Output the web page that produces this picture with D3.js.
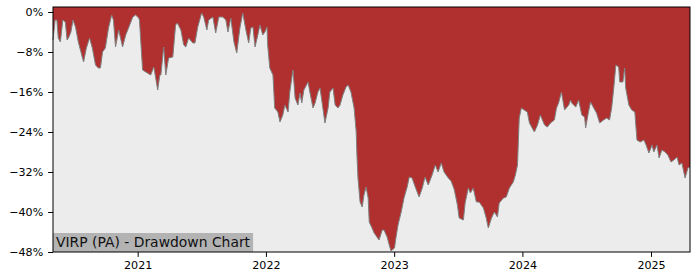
<!DOCTYPE html>
<html>
<head>
<meta charset="utf-8">
<script src="https://cdn.jsdelivr.net/npm/d3@7"></script>
<style>
  body { margin: 0; background: #fff; }
  svg text { font-family: "DejaVu Sans", sans-serif; }
</style>
</head>
<body>
<div id="chart"></div>
<script>
// drawdown series (date, drawdown in %)
var dates = [
  "2020-05-05","2020-05-11","2020-05-16","2020-05-20","2020-05-26","2020-06-02","2020-06-09","2020-06-14",
  "2020-06-18","2020-06-25","2020-07-01","2020-07-08","2020-07-16","2020-07-31","2020-08-08","2020-08-17",
  "2020-08-25","2020-09-03","2020-09-11","2020-09-17","2020-09-23","2020-10-01","2020-10-10","2020-10-19",
  "2020-10-24","2020-10-30","2020-11-08","2020-11-19","2020-11-28","2020-12-06","2020-12-18","2020-12-26",
  "2021-01-04","2021-01-06","2021-01-15","2021-01-24","2021-02-07","2021-02-16","2021-02-27","2021-03-05",
  "2021-03-08","2021-03-16","2021-03-22","2021-03-30","2021-04-11","2021-04-19","2021-04-24","2021-05-04",
  "2021-05-12","2021-05-18","2021-05-26","2021-06-07","2021-06-13","2021-06-21","2021-07-02","2021-07-08",
  "2021-07-17","2021-07-22","2021-08-03","2021-08-11","2021-08-20","2021-08-31","2021-09-09","2021-09-15",
  "2021-09-23","2021-10-02","2021-10-10","2021-10-19","2021-10-27","2021-11-05","2021-11-13","2021-11-19",
  "2021-11-25","2021-12-01","2021-12-09","2021-12-15","2021-12-23","2021-12-29","2022-01-04","2022-01-06",
  "2022-01-12","2022-01-21","2022-01-26","2022-02-04","2022-02-10","2022-02-18","2022-02-24","2022-03-05",
  "2022-03-10","2022-03-19","2022-03-25","2022-04-02","2022-04-08","2022-04-13","2022-04-19","2022-05-01",
  "2022-05-06","2022-05-15","2022-05-21","2022-05-29","2022-06-04","2022-06-12","2022-06-18","2022-06-27",
  "2022-07-02","2022-07-11","2022-07-17","2022-07-25","2022-07-31","2022-08-08","2022-08-17","2022-08-23",
  "2022-08-31","2022-09-09","2022-09-15","2022-09-17","2022-09-20","2022-09-26","2022-10-02","2022-10-07",
  "2022-10-13","2022-10-19","2022-10-22","2022-10-30","2022-11-05","2022-11-13","2022-11-19","2022-11-28",
  "2022-12-03","2022-12-12","2022-12-18","2022-12-23","2023-01-02","2023-01-06","2023-01-12","2023-01-21",
  "2023-01-29","2023-02-07","2023-02-13","2023-02-21","2023-03-02","2023-03-13","2023-03-22","2023-03-30",
  "2023-04-08","2023-04-19","2023-04-28","2023-05-06","2023-05-15","2023-05-23","2023-06-04","2023-06-12",
  "2023-06-21","2023-06-30","2023-07-05","2023-07-17","2023-07-22","2023-07-31","2023-08-06","2023-08-14",
  "2023-08-23","2023-08-31","2023-09-12","2023-09-20","2023-09-26","2023-10-05","2023-10-13","2023-10-22",
  "2023-10-27","2023-11-08","2023-11-16","2023-11-25","2023-12-06","2023-12-12","2023-12-18","2023-12-23",
  "2023-12-29","2024-01-06","2024-01-15","2024-01-21","2024-02-04","2024-02-13","2024-02-21","2024-03-04",
  "2024-03-12","2024-03-21","2024-04-01","2024-04-07","2024-04-13","2024-04-21","2024-04-30","2024-05-12",
  "2024-05-17","2024-05-20","2024-06-01","2024-06-09","2024-06-18","2024-06-26","2024-06-29","2024-07-07",
  "2024-07-13","2024-07-22","2024-07-30","2024-08-08","2024-08-19","2024-08-28","2024-09-05","2024-09-11",
  "2024-09-17","2024-09-23","2024-10-01","2024-10-04","2024-10-13","2024-10-18","2024-10-21","2024-10-30",
  "2024-11-07","2024-11-16","2024-11-22","2024-12-01","2024-12-12","2024-12-18","2024-12-26","2025-01-04",
  "2025-01-09","2025-01-18","2025-01-24","2025-02-01","2025-02-10","2025-02-18","2025-02-27","2025-03-07",
  "2025-03-16","2025-03-22","2025-03-30","2025-04-08","2025-04-16","2025-04-22"
];
var drawdown = [
  -5.6,-1.6,-1.6,-5.2,-6.0,-1.6,-2.0,-5.6,
  -5.2,-4.0,-1.6,-3.0,-6.0,-10.0,-7.2,-5.2,
  -7.2,-10.6,-11.2,-11.2,-8.0,-7.2,-3.2,-0.6,
  -1.6,-7.0,-3.6,-7.0,-4.6,-3.2,-1.0,-0.6,
  -1.2,-1.6,-11.6,-12.0,-12.6,-11.0,-15.6,-12.6,
  -12.6,-7.0,-12.6,-9.2,-9.0,-2.6,-2.2,-3.6,
  -6.6,-7.0,-5.2,-6.2,-6.2,-3.0,-0.2,-1.0,
  -3.6,-1.6,-1.0,-4.2,-1.0,-1.0,-1.6,-4.0,
  -1.2,-6.0,-8.2,-3.2,-0.2,-3.6,-6.2,-3.2,
  -3.0,-7.0,-4.6,-2.6,-4.6,-4.0,-3.0,-6.6,
  -11.2,-12.6,-19.2,-20.0,-22.0,-20.6,-18.6,-20.0,
  -16.0,-11.6,-17.2,-18.6,-16.2,-18.2,-15.6,-14.0,
  -16.0,-19.2,-18.2,-16.0,-15.2,-19.2,-22.2,-19.2,
  -16.0,-15.2,-18.6,-19.2,-18.6,-16.6,-15.0,-14.6,
  -16.0,-19.2,-24.0,-28.6,-33.2,-38.0,-39.0,-36.6,
  -35.0,-37.2,-42.0,-43.2,-44.2,-45.0,-45.6,-43.6,
  -43.6,-45.0,-46.6,-47.8,-47.2,-45.2,-42.6,-40.0,
  -37.2,-35.0,-33.0,-33.2,-35.0,-37.0,-35.2,-33.0,
  -34.6,-32.6,-30.6,-32.0,-30.2,-32.0,-33.2,-33.8,
  -35.5,-38.6,-41.2,-41.6,-38.2,-35.2,-36.2,-35.2,
  -38.0,-38.0,-39.2,-41.2,-43.2,-41.2,-40.0,-41.0,
  -38.2,-37.2,-37.0,-35.2,-34.0,-32.6,-30.6,-21.2,
  -19.2,-19.6,-20.0,-22.2,-24.0,-22.6,-20.6,-22.6,
  -23.0,-22.2,-21.6,-19.2,-18.2,-16.0,-19.6,-18.6,
  -17.6,-18.2,-19.0,-17.6,-20.6,-21.0,-23.2,-20.0,
  -18.0,-19.2,-20.2,-22.2,-21.6,-21.2,-21.6,-19.2,
  -15.2,-10.6,-11.0,-14.0,-14.0,-11.2,-15.2,-18.6,
  -19.6,-20.0,-25.6,-26.0,-25.6,-26.6,-28.2,-26.6,
  -28.0,-26.6,-29.2,-27.6,-28.0,-28.6,-30.0,-29.6,
  -29.0,-30.6,-30.2,-33.2,-31.2,-31.0
];
var yTicks = [0, -8, -16, -24, -32, -40, -48];
var xTicks = ["2021-01-01", "2022-01-01", "2023-01-01", "2024-01-01", "2025-01-01"];
var title = "VIRP (PA) - Drawdown Chart";

var width = 700, height = 280;
var margin = {left: 53, right: 10, top: 7, bottom: 28};

var parse = d3.timeParse("%Y-%m-%d");
var data = dates.map(function(d, i) { return {date: parse(d), v: drawdown[i]}; });

var svg = d3.select("#chart").append("svg")
    .attr("width", width)
    .attr("height", height);

var x = d3.scaleTime()
    .domain(d3.extent(data, function(d) { return d.date; }))
    .range([margin.left, width - margin.right]);

var y = d3.scaleLinear()
    .domain([-48, 1])
    .range([height - margin.bottom, margin.top]);

// plot background
svg.append("rect")
    .attr("x", margin.left)
    .attr("y", margin.top)
    .attr("width", width - margin.left - margin.right)
    .attr("height", height - margin.top - margin.bottom)
    .attr("fill", "#ececec");

var area = d3.area()
    .x(function(d) { return x(d.date); })
    .y0(y(0))
    .y1(function(d) { return y(d.v); });

// red band from 0% down to the drawdown
svg.append("path")
    .datum(data)
    .attr("d", area)
    .attr("fill", "#b03030");

// the strip above 0% is red as well in the reference
svg.append("rect")
    .attr("x", margin.left)
    .attr("y", margin.top)
    .attr("width", width - margin.left - margin.right)
    .attr("height", y(0) - margin.top)
    .attr("fill", "#b03030");

svg.append("path")
    .datum(data)
    .attr("d", d3.line().x(function(d) { return x(d.date); }).y(function(d) { return y(d.v); }))
    .attr("fill", "none")
    .attr("stroke", "#808080")
    .attr("stroke-width", 1);

// title box in the lower left corner
var tb = svg.append("g");
var tt = tb.append("text")
    .attr("x", margin.left + 3)
    .attr("y", height - margin.bottom - 5)
    .attr("font-size", 13.9)
    .attr("fill", "#111")
    .text(title);
var bw = tt.node().getComputedTextLength();
tb.insert("rect", "text")
    .attr("x", margin.left)
    .attr("y", height - margin.bottom - 19)
    .attr("width", bw + 6)
    .attr("height", 19)
    .attr("fill", "#b3b3b3");

// axes
var yAxis = d3.axisLeft(y)
    .tickValues(yTicks)
    .tickSize(4.9)
    .tickPadding(4.9)
    .tickFormat(function(d) { return (d < 0 ? "\u2212" + (-d) : d) + "%"; });

svg.append("g")
    .attr("transform", "translate(" + margin.left + ",0)")
    .call(yAxis)
    .call(function(g) { g.select(".domain").remove(); })
    .selectAll("text").attr("font-size", 11.1).attr("fill", "#000")
    .attr("font-family", "DejaVu Sans");

var xAxis = d3.axisBottom(x)
    .tickValues(xTicks.map(parse))
    .tickSize(4.9)
    .tickPadding(4.2)
    .tickFormat(d3.timeFormat("%Y"));

svg.append("g")
    .attr("transform", "translate(0," + (height - margin.bottom) + ")")
    .call(xAxis)
    .call(function(g) { g.select(".domain").remove(); })
    .selectAll("text").attr("font-size", 11.1).attr("fill", "#000")
    .attr("font-family", "DejaVu Sans");

// frame
svg.append("rect")
    .attr("x", margin.left)
    .attr("y", margin.top)
    .attr("width", width - margin.left - margin.right)
    .attr("height", height - margin.top - margin.bottom)
    .attr("fill", "none")
    .attr("stroke", "#000")
    .attr("stroke-width", 1);
</script>
</body>
</html>
